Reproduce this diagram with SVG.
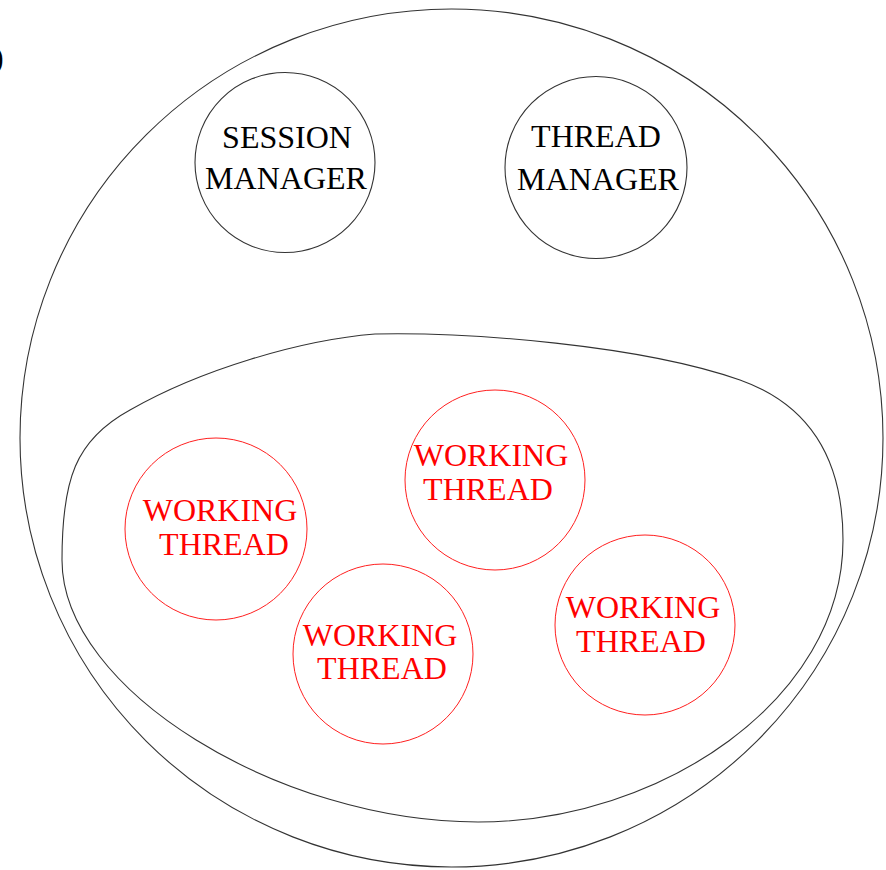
<svg xmlns="http://www.w3.org/2000/svg" width="886" height="870" viewBox="0 0 886 870">
<style>
.line{fill:none;stroke:#333;stroke-width:1.1}
.red{fill:none;stroke:#ff2020;stroke-width:1}
.tb{font-family:"Liberation Serif","Times New Roman",serif;font-size:32px;fill:#000;text-anchor:middle}
.tr{font-family:"Liberation Serif","Times New Roman",serif;font-size:32px;fill:#ff0000;text-anchor:middle}
</style>
<rect width="886" height="870" fill="#fff"/>
<text x="-7" y="68" font-family="Liberation Serif, serif" font-size="32" fill="#000">)</text>
<g id="system">
<ellipse class="line" cx="451.5" cy="438" rx="431.5" ry="429"/>
</g>
<g id="pool">
<path class="line" d="M375,334 C470,332 640,345 740,380 C810,405 843,460 843,540 C843,700 660,822 478,822 C280,822 62,690 62,560 C62,480 75,440 130,410 C200,370 300,340 375,334 Z"/>
</g>
<g id="session-manager">
<circle class="line" cx="285" cy="162.5" r="90"/>
<text class="tb" x="287" y="148">SESSION</text>
<text class="tb" x="286" y="189">MANAGER</text>
</g>
<g id="thread-manager">
<circle class="line" cx="596" cy="167.5" r="91"/>
<text class="tb" x="596" y="147">THREAD</text>
<text class="tb" x="598" y="190">MANAGER</text>
</g>
<g id="working-thread-1">
<circle class="red" cx="216" cy="529" r="91"/>
<text class="tr" x="220" y="521">WORKING</text>
<text class="tr" x="224" y="555">THREAD</text>
</g>
<g id="working-thread-2">
<circle class="red" cx="495" cy="480" r="90"/>
<text class="tr" x="491" y="466">WORKING</text>
<text class="tr" x="488" y="500">THREAD</text>
</g>
<g id="working-thread-3">
<circle class="red" cx="383" cy="654" r="90"/>
<text class="tr" x="380" y="646">WORKING</text>
<text class="tr" x="382" y="679">THREAD</text>
</g>
<g id="working-thread-4">
<circle class="red" cx="645" cy="625" r="90"/>
<text class="tr" x="643" y="618">WORKING</text>
<text class="tr" x="641" y="652">THREAD</text>
</g>
<g id="connectors"></g>
</svg>
